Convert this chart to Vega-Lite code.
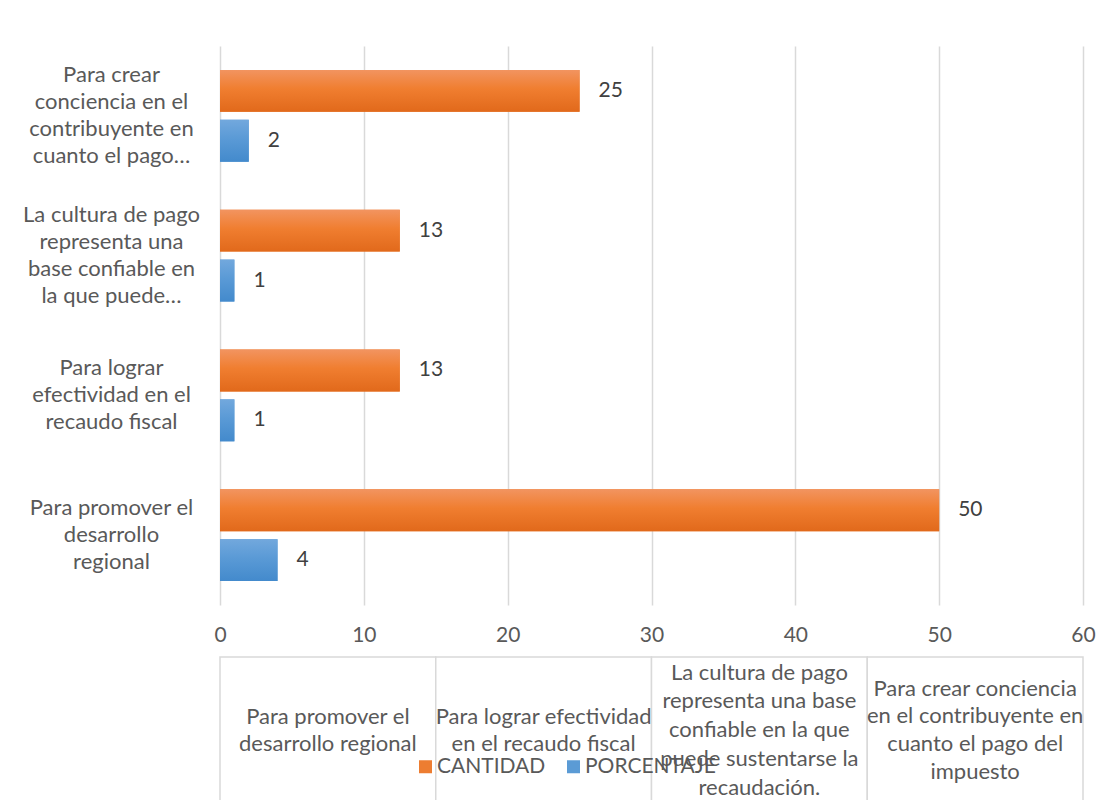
{
  "$schema": "https://vega.github.io/schema/vega-lite/v6.json",
  "padding": {"left": 22, "top": 46, "right": 10, "bottom": 0},
  "background": "white",
  "config": {"view": {"stroke": null}, "font": "Lato", "concat": {"spacing": 11}},
  "datasets": {
    "barras": [
      {"eje": "Para crear|conciencia en el|contribuyente en|cuanto el pago…", "serie": "CANTIDAD", "valor": 25},
      {"eje": "Para crear|conciencia en el|contribuyente en|cuanto el pago…", "serie": "PORCENTAJE", "valor": 2},
      {"eje": "La cultura de pago|representa una|base confiable en|la que puede…", "serie": "CANTIDAD", "valor": 12.5},
      {"eje": "La cultura de pago|representa una|base confiable en|la que puede…", "serie": "PORCENTAJE", "valor": 1},
      {"eje": "Para lograr|efectividad en el|recaudo fiscal", "serie": "CANTIDAD", "valor": 12.5},
      {"eje": "Para lograr|efectividad en el|recaudo fiscal", "serie": "PORCENTAJE", "valor": 1},
      {"eje": "Para promover el|desarrollo|regional", "serie": "CANTIDAD", "valor": 50},
      {"eje": "Para promover el|desarrollo|regional", "serie": "PORCENTAJE", "valor": 4}
    ],
    "tabla": [
      {"texto": "Para promover el\ndesarrollo regional"},
      {"texto": "Para lograr efectividad\nen el recaudo fiscal"},
      {"texto": "La cultura de pago\nrepresenta una base\nconfiable en la que\npuede sustentarse la\nrecaudación."},
      {"texto": "Para crear conciencia\nen el contribuyente en\ncuanto el pago del\nimpuesto"}
    ]
  },
  "vconcat": [
    {
      "width": 863,
      "height": 559,
      "data": {"name": "barras"},
      "encoding": {
        "y": {
          "field": "eje", "type": "nominal",
          "sort": [
            "Para crear|conciencia en el|contribuyente en|cuanto el pago…",
            "La cultura de pago|representa una|base confiable en|la que puede…",
            "Para lograr|efectividad en el|recaudo fiscal",
            "Para promover el|desarrollo|regional"
          ],
          "scale": {"paddingInner": 0.343, "paddingOuter": 0.171},
          "axis": {
            "title": null, "domain": false, "ticks": false,
            "labelExpr": "split(datum.value, '|')",
            "labelAlign": "center", "labelBaseline": "middle", "labelPadding": 109,
            "labelOffset": {"condition": {"test": "length(split(datum.value, '|')) == 3", "value": -27}, "value": -40.5},
            "labelFontSize": 22, "labelLineHeight": 27, "labelColor": "#595959", "labelLimit": 0
          }
        },
        "yOffset": {
          "field": "serie", "type": "nominal", "sort": ["CANTIDAD", "PORCENTAJE"],
          "scale": {"paddingInner": 0.16, "paddingOuter": 0}
        },
        "x": {
          "field": "valor", "type": "quantitative",
          "scale": {"domain": [0, 60], "nice": false},
          "axis": {
            "title": null, "values": [0, 10, 20, 30, 40, 50, 60], "grid": true,
            "gridColor": "#d9d9d9", "gridWidth": 1.5, "domain": false, "ticks": false,
            "labelFontSize": 21, "labelColor": "#595959", "labelPadding": 19, "labelFlush": false
          }
        }
      },
      "layer": [
        {
          "mark": {"type": "bar"},
          "encoding": {
            "color": {
              "field": "serie", "type": "nominal",
              "scale": {"domain": ["CANTIDAD", "PORCENTAJE"], "range": ["#ED7D31", "#5B9BD5"]},
              "legend": {
                "title": null, "orient": "none", "legendX": 195, "legendY": 710,
                "direction": "horizontal", "symbolType": "square", "symbolSize": 169,
                "symbolStrokeWidth": 0, "labelFontSize": 21, "labelColor": "#595959",
                "labelOffset": 1, "columnPadding": 17
              }
            }
          }
        },
        {
          "mark": {"type": "bar"},
          "encoding": {
            "fill": {
              "condition": {
                "test": "datum.serie === 'CANTIDAD'",
                "value": {"gradient": "linear", "x1": 0, "y1": 0, "x2": 0, "y2": 1,
                  "stops": [{"offset": 0, "color": "#F29460"}, {"offset": 0.45, "color": "#F07E30"}, {"offset": 1, "color": "#E1691B"}]}
              },
              "value": {"gradient": "linear", "x1": 0, "y1": 0, "x2": 0, "y2": 1,
                "stops": [{"offset": 0, "color": "#72A8DD"}, {"offset": 0.45, "color": "#5A9AD6"}, {"offset": 1, "color": "#438ACC"}]}
            }
          }
        },
        {
          "mark": {"type": "text", "align": "left", "baseline": "middle", "dx": 19, "fontSize": 21, "color": "#404040"},
          "encoding": {"text": {"field": "valor", "type": "quantitative", "format": ".0f"}}
        }
      ]
    },
    {
      "width": 863,
      "height": 146,
      "data": {"name": "tabla"},
      "encoding": {
        "x": {"field": "texto", "type": "nominal", "sort": null, "scale": {"paddingInner": 0, "paddingOuter": 0}, "axis": null}
      },
      "layer": [
        {"mark": {"type": "rect", "fill": "white", "stroke": "#d9d9d9", "strokeWidth": 1.5}},
        {
          "transform": [{"filter": "length(split(datum.texto, '\\n')) == 2"}],
          "mark": {"type": "text", "lineBreak": "\n", "fontSize": 22, "lineHeight": 27, "color": "#595959", "baseline": "middle", "dy": -13.5},
          "encoding": {"text": {"field": "texto", "type": "nominal"}}
        },
        {
          "transform": [{"filter": "length(split(datum.texto, '\\n')) == 4"}],
          "mark": {"type": "text", "lineBreak": "\n", "fontSize": 22, "lineHeight": 27.7, "color": "#595959", "baseline": "middle", "dy": -41.5},
          "encoding": {"text": {"field": "texto", "type": "nominal"}}
        },
        {
          "transform": [{"filter": "length(split(datum.texto, '\\n')) == 5"}],
          "mark": {"type": "text", "lineBreak": "\n", "fontSize": 22, "lineHeight": 28.75, "color": "#595959", "baseline": "middle", "dy": -57.5},
          "encoding": {"text": {"field": "texto", "type": "nominal"}}
        }
      ]
    }
  ]
}
